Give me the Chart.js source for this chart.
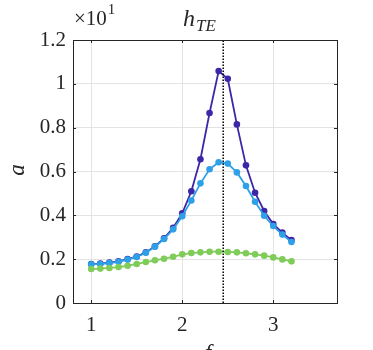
<!DOCTYPE html>
<html><head><meta charset="utf-8">
<script src="https://cdn.jsdelivr.net/npm/chart.js@4/dist/chart.umd.min.js"></script>
<style>html,body{margin:0;padding:0;background:#fff}#wrap{width:373px;height:350px}</style>
</head><body><div id="wrap"><canvas id="c" width="373" height="350"></canvas></div>
<script>
const xValues = [1.0,1.1,1.2,1.3,1.4,1.5,1.6,1.7,1.8,1.9,2.0,2.1,2.2,2.3,2.4,2.5,2.6,2.7,2.8,2.9,3.0,3.1,3.2];
const seriesDark  = [0.178,0.180,0.184,0.190,0.200,0.212,0.231,0.259,0.295,0.343,0.409,0.510,0.656,0.867,1.058,1.023,0.815,0.628,0.503,0.420,0.360,0.321,0.287];
const seriesBlue  = [0.177,0.178,0.182,0.188,0.198,0.210,0.229,0.257,0.292,0.336,0.396,0.468,0.546,0.610,0.642,0.636,0.596,0.534,0.462,0.398,0.351,0.312,0.278];
const seriesGreen = [0.155,0.157,0.160,0.164,0.170,0.178,0.187,0.195,0.202,0.211,0.222,0.228,0.231,0.234,0.234,0.233,0.231,0.227,0.222,0.216,0.208,0.199,0.190];
const markerX = 2.45;
const xTicks = [1,2,3];
const yTicks = [0,0.2,0.4,0.6,0.8,1.0,1.2];
const titleMain = "h", titleSub = "TE";
const xLabel = "f", yLabel = "a", multiplier = "×10", multExp = "1";

const pts = arr => arr.map((v,i)=>({x:xValues[i],y:v}));
const FONT = "'Liberation Serif', 'DejaVu Serif', serif";
const TXT = "#262626";

const deco = {
  id:'deco',
  afterDraw(chart){
    const ctx = chart.ctx, a = chart.chartArea;
    const xs = chart.scales.x, ys = chart.scales.y;
    ctx.save();
    ctx.strokeStyle = TXT; ctx.lineWidth = 1;
    ctx.strokeRect(Math.round(a.left)+0.5, Math.round(a.top)+0.5, Math.round(a.right-a.left), Math.round(a.bottom-a.top));
    ctx.beginPath();
    xTicks.forEach(v=>{const p=Math.round(xs.getPixelForValue(v))+0.5; ctx.moveTo(p,a.bottom); ctx.lineTo(p,a.bottom-3); ctx.moveTo(p,a.top); ctx.lineTo(p,a.top+3);});
    yTicks.forEach(v=>{const p=Math.round(ys.getPixelForValue(v))+0.5; ctx.moveTo(a.left,p); ctx.lineTo(a.left+3,p); ctx.moveTo(a.right,p); ctx.lineTo(a.right-3,p);});
    ctx.stroke();
    ctx.fillStyle = TXT;
    ctx.font = "21px " + FONT; ctx.textBaseline = 'alphabetic'; ctx.textAlign='left';
    ctx.fillText(multiplier, 74, 25);
    const w = ctx.measureText(multiplier).width;
    ctx.font = "15px " + FONT; ctx.fillText(multExp, 74+w+1, 14);
    ctx.font = "italic 24px " + FONT;
    ctx.fillText(titleMain, 183, 26);
    const tw = ctx.measureText(titleMain).width;
    ctx.font = "italic 17px " + FONT;
    ctx.fillText(titleSub, 183+tw+1, 31);
    ctx.font = "italic 23px " + FONT; ctx.textAlign='center'; ctx.textBaseline='top';
    ctx.fillText(xLabel, (a.left+a.right)/2+3, 342);
    ctx.translate(18, 170); ctx.rotate(-Math.PI/2);
    ctx.textBaseline='middle';
    ctx.fillText(yLabel, 0, 0);
    ctx.restore();
  }
};

const ds = (data,color) => ({data:pts(data), borderColor:color, backgroundColor:color, borderWidth:1.8, pointRadius:3.3, pointHoverRadius:3.3, pointBorderWidth:0, tension:0});

new Chart(document.getElementById('c'), {
  type:'line',
  data:{datasets:[
    {data:[{x:markerX,y:0},{x:markerX,y:1.2}], borderColor:'#000', borderWidth:1.5, borderDash:[1.5,1.5], pointRadius:0, order:0},
    ds(seriesGreen,'#7fcc58'),
    ds(seriesBlue,'#2ea0e8'),
    ds(seriesDark,'#3e26a8')
  ]},
  options:{
    responsive:false, animation:false, events:[],
    layout:{padding:{left:0,top:40,right:36,bottom:0}},
    plugins:{legend:{display:false}, tooltip:{enabled:false}},
    scales:{
      x:{type:'linear', min:0.8, max:3.7,
         afterBuildTicks:s=>{s.ticks = xTicks.map(v=>({value:v}));},
         afterFit:s=>{s.height=47;},
         grid:{color:'#e3e3e3', drawTicks:false},
         border:{color:TXT},
         ticks:{padding:10, color:TXT, font:{family:FONT,size:21}, maxRotation:0, callback:v=>String(v)}},
      y:{type:'linear', min:0, max:1.2,
         afterBuildTicks:s=>{s.ticks = yTicks.map(v=>({value:v}));},
         afterFit:s=>{s.width=73;},
         grid:{color:'#e3e3e3', drawTicks:false},
         border:{color:TXT},
         ticks:{padding:7, color:TXT, font:{family:FONT,size:21}, callback:v=>String(Number(v.toFixed(1)))}}
    }
  },
  plugins:[deco]
});
</script></body></html>
